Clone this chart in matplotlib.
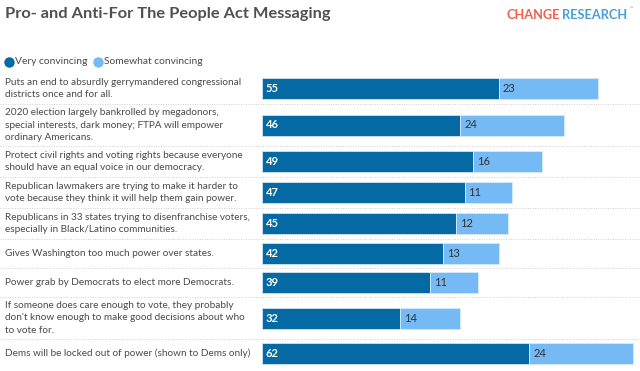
import matplotlib
matplotlib.use("Agg")
import matplotlib.pyplot as plt

labels = [
    "Puts an end to absurdly gerrymandered congressional\ndistricts once and for all.",
    "2020 election largely bankrolled by megadonors,\nspecial interests, dark money; FTPA will empower\nordinary Americans.",
    "Protect civil rights and voting rights because everyone\nshould have an equal voice in our democracy.",
    "Republican lawmakers are trying to make it harder to\nvote because they think it will help them gain power.",
    "Republicans in 33 states trying to disenfranchise voters,\nespecially in Black/Latino communities.",
    "Gives Washington too much power over states.",
    "Power grab by Democrats to elect more Democrats.",
    "If someone does care enough to vote, they probably\ndon't know enough to make good decisions about who\nto vote for.",
    "Dems will be locked out of power (shown to Dems only)",
]
very = [55, 46, 49, 47, 45, 42, 39, 32, 62]
somewhat = [23, 24, 16, 11, 12, 13, 11, 14, 24]
series_names = ["Very convincing", "Somewhat convincing"]
title = "Pro- and Anti-For The People Act Messaging"

DARK = "#0569A3"
LIGHT = "#75B9F5"
TXT = "#4a4a4a"
FONT = "Lato"

W, H = 640, 371
fig = plt.figure(figsize=(W / 100, H / 100), dpi=100)
bg = fig.add_axes([0, 0, 1, 1])
bg.set_xlim(0, W)
bg.set_ylim(H, 0)
bg.axis("off")

# row layout based on number of text lines
row_h = {1: 29, 2: 31, 3: 42}
top = 73
centers, seps = [], []
for lab in labels:
    h = row_h[lab.count("\n") + 1]
    centers.append(top + h / 2)
    top += h
    seps.append(top)

# title & logo
bg.text(5, 14, title, fontsize=11.8, fontweight="bold", color="#505050",
        family=FONT, va="center", ha="left")
bg.text(560, 15, "CHANGE", fontsize=9.2, fontweight="bold", color="#F0604C",
        family=FONT, va="center", ha="right")
bg.text(627, 15, "RESEARCH", fontsize=9.2, fontweight="bold", color="#4A9FD8",
        family=FONT, va="center", ha="right")
bg.text(628, 9, "™", fontsize=3.5, color="#4A9FD8", family="DejaVu Sans",
        va="center", ha="left")

# legend
bg.scatter([9], [62], s=42, color=DARK, zorder=3)
bg.text(15, 61, series_names[0], fontsize=7.4, color=TXT, family=FONT, va="center")
bg.scatter([98], [62], s=42, color=LIGHT, zorder=3)
bg.text(104, 61, series_names[1], fontsize=7.4, color=TXT, family=FONT, va="center")

# labels & separators
for lab, c in zip(labels, centers):
    bg.text(5, c, lab, fontsize=7.2, color=TXT, family=FONT, va="center",
            ha="left", linespacing=1.45)
for s in seps[:-1]:
    bg.plot([0, W], [s, s], color="#d0d0d0", lw=0.7, ls=(0, (1, 1.5)))

# bars
x0 = 262
ax = fig.add_axes([x0 / W, 0, (W - x0) / W, 1])
ax.set_ylim(H, 0)
ax.set_xlim(0, (W - x0) / 4.31)
ax.axis("off")
ax.barh(centers, very, height=21, color=DARK, edgecolor="#cfe3f3", lw=0.6)
ax.barh(centers, somewhat, left=very, height=21, color=LIGHT,
        edgecolor="#d6ebfc", lw=0.6)
for c, v, s in zip(centers, very, somewhat):
    ax.text(0.9, c, str(v), color="white", fontsize=8, fontweight="bold",
            family=FONT, va="center", ha="left")
    ax.text(v + 0.9, c, str(s), color="#333333", fontsize=8,
            family=FONT, va="center", ha="left")

fig.savefig("out.png", dpi=100)
